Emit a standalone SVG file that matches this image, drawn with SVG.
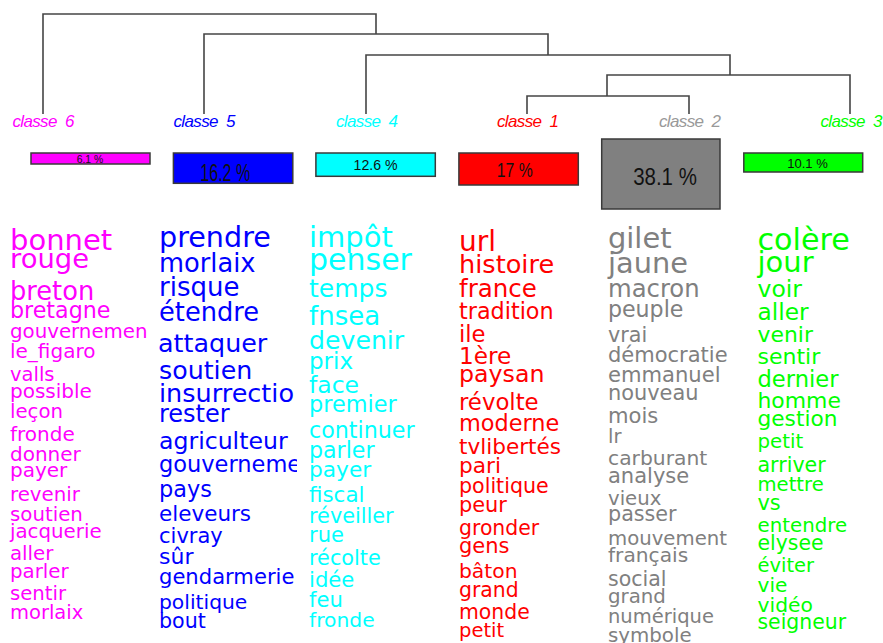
<svg xmlns="http://www.w3.org/2000/svg" width="883" height="643" viewBox="0 0 883 643">
<style>
.w{font-family:"DejaVu Sans","Liberation Sans",sans-serif}
.lab{font-family:"Liberation Sans",Arial,sans-serif;font-style:italic;font-size:17px;text-anchor:middle;white-space:pre}
.pct{font-family:"Liberation Sans",Arial,sans-serif;text-anchor:middle;fill:#111}
.bar{stroke:#3a3a3a;stroke-width:1.5}
.den{fill:none;stroke:#454545;stroke-width:1.6}
.m{fill:#FF00FF}.b{fill:#0000FF}.cy{fill:#00FFFF}.r{fill:#FF0000}.g{fill:#808080}.gr{fill:#00FF00}
</style>
<defs>
<clipPath id="clip5"><rect x="150" y="215" width="147" height="428"/></clipPath>
</defs>
<rect width="883" height="643" fill="#fff"/>
<g id="connectors" class="den">
<path d="M43,114 V14 H376 V34"/>
<path d="M204,114 V34 H548 V55"/>
<path d="M366,114 V55 H730 V75"/>
<path d="M607,96 V75 H850 V114"/>
<path d="M527,114 V96 H689 V114"/>
</g>
<g id="classe6">
<text class="lab m" x="43.4" y="127" textLength="62" xml:space="preserve">classe  6</text>
<rect class="bar m" x="31" y="153" width="119" height="11"/>
<text class="pct" x="90" y="162.7" font-size="10.8" textLength="26.6" lengthAdjust="spacingAndGlyphs">6.1 %</text>
<g class="w m">
<text x="10" y="250" font-size="29">bonnet</text>
<text x="10" y="268" font-size="27.4">rouge</text>
<text x="10" y="300" font-size="25.7">breton</text>
<text x="10" y="318" font-size="22.2">bretagne</text>
<text x="10" y="338" font-size="19.8">gouvernemen</text>
<text x="10" y="358" font-size="20">le_figaro</text>
<text x="10" y="381" font-size="19.5">valls</text>
<text x="10" y="398" font-size="20">possible</text>
<text x="10" y="418" font-size="19.7">leçon</text>
<text x="10" y="441" font-size="20">fronde</text>
<text x="10" y="461" font-size="20">donner</text>
<text x="10" y="477" font-size="20">payer</text>
<text x="10" y="501" font-size="19.8">revenir</text>
<text x="10" y="521" font-size="19.8">soutien</text>
<text x="10" y="538" font-size="19.8">jacquerie</text>
<text x="10" y="560" font-size="19.8">aller</text>
<text x="10" y="578" font-size="19.8">parler</text>
<text x="10" y="600" font-size="19.7">sentir</text>
<text x="10" y="619" font-size="19.5">morlaix</text>
</g>
</g>
<g id="classe5">
<text class="lab b" x="204.5" y="127" textLength="62" xml:space="preserve">classe  5</text>
<rect class="bar b" x="173.4" y="153" width="119.4" height="30.3"/>
<text class="pct" x="225.3" y="180.5" font-size="24.4" textLength="50" lengthAdjust="spacingAndGlyphs">16.2 %</text>
<g class="w b" clip-path="url(#clip5)">
<text x="159" y="247" font-size="28.6">prendre</text>
<text x="159" y="272" font-size="25.7">morlaix</text>
<text x="159" y="296" font-size="26">risque</text>
<text x="159" y="321" font-size="25.7">étendre</text>
<text x="158" y="352" font-size="25.4">attaquer</text>
<text x="159" y="379" font-size="25.3">soutien</text>
<text x="159" y="402" font-size="25.5">insurrectio</text>
<text x="159" y="422" font-size="24">rester</text>
<text x="159" y="449" font-size="23.6">agriculteur</text>
<text x="159" y="472" font-size="22.5">gouverneme</text>
<text x="159" y="497" font-size="22.4">pays</text>
<text x="159" y="521" font-size="21.5">eleveurs</text>
<text x="159" y="543" font-size="21">civray</text>
<text x="159" y="564" font-size="22">sûr</text>
<text x="159" y="584" font-size="21.1">gendarmerie</text>
<text x="159" y="609" font-size="20.3">politique</text>
<text x="159" y="628" font-size="20.6">bout</text>
</g>
</g>
<g id="classe4">
<text class="lab cy" x="367" y="127" textLength="62" xml:space="preserve">classe  4</text>
<rect class="bar cy" x="315.9" y="153" width="119.4" height="23.3"/>
<text class="pct" x="375.6" y="170" font-size="15" textLength="44" lengthAdjust="spacingAndGlyphs">12.6 %</text>
<g class="w cy">
<text x="309" y="247" font-size="29">impôt</text>
<text x="309" y="270" font-size="30">penser</text>
<text x="309" y="297" font-size="25">temps</text>
<text x="309" y="325" font-size="26">fnsea</text>
<text x="309" y="349" font-size="25.2">devenir</text>
<text x="309" y="369" font-size="23">prix</text>
<text x="309" y="393" font-size="23.5">face</text>
<text x="309" y="412" font-size="22.4">premier</text>
<text x="309" y="438" font-size="22.2">continuer</text>
<text x="309" y="458" font-size="22.1">parler</text>
<text x="309" y="477" font-size="21.7">payer</text>
<text x="309" y="502" font-size="21.4">fiscal</text>
<text x="309" y="523" font-size="20.8">réveiller</text>
<text x="309" y="542" font-size="21">rue</text>
<text x="309" y="565" font-size="20.8">récolte</text>
<text x="309" y="587" font-size="21.2">idée</text>
<text x="309" y="607" font-size="21.1">feu</text>
<text x="309" y="627" font-size="20.3">fronde</text>
</g>
</g>
<g id="classe1">
<text class="lab r" x="528" y="127" textLength="62" xml:space="preserve">classe  1</text>
<rect class="bar r" x="458.9" y="153" width="119.4" height="32"/>
<text class="pct" x="514.7" y="176.7" font-size="21" textLength="36" lengthAdjust="spacingAndGlyphs">17 %</text>
<g class="w r">
<text x="459" y="251" font-size="28">url</text>
<text x="459" y="273" font-size="25.6">histoire</text>
<text x="459" y="297" font-size="24.5">france</text>
<text x="459" y="319" font-size="22.3">tradition</text>
<text x="459" y="342" font-size="22.7">ile</text>
<text x="459" y="364" font-size="23.2">1ère</text>
<text x="459" y="382" font-size="23.7">paysan</text>
<text x="459" y="410" font-size="22.8">révolte</text>
<text x="459" y="431" font-size="22.4">moderne</text>
<text x="459" y="454" font-size="21.6">tvlibertés</text>
<text x="459" y="473" font-size="21.7">pari</text>
<text x="459" y="493" font-size="20.6">politique</text>
<text x="459" y="512" font-size="20.9">peur</text>
<text x="459" y="535" font-size="20.4">gronder</text>
<text x="459" y="553" font-size="21">gens</text>
<text x="459" y="578" font-size="20.3">bâton</text>
<text x="459" y="597" font-size="20.4">grand</text>
<text x="459" y="619" font-size="20.4">monde</text>
<text x="459" y="637" font-size="19.5">petit</text>
</g>
</g>
<g id="classe2">
<text class="lab" x="690" y="127" textLength="62" xml:space="preserve" fill="#999">classe  2</text>
<rect class="bar g" x="601.7" y="139" width="118.3" height="70"/>
<text class="pct" x="665" y="185" font-size="23.3" textLength="63.7" lengthAdjust="spacingAndGlyphs">38.1 %</text>
<g class="w g">
<text x="608" y="248" font-size="28.9">gilet</text>
<text x="608" y="273" font-size="28.8">jaune</text>
<text x="608" y="297" font-size="24.3">macron</text>
<text x="608" y="317" font-size="22.1">peuple</text>
<text x="608" y="342" font-size="20.7">vrai</text>
<text x="608" y="362" font-size="21">démocratie</text>
<text x="608" y="382" font-size="21.1">emmanuel</text>
<text x="608" y="400" font-size="20.9">nouveau</text>
<text x="608" y="423" font-size="21.1">mois</text>
<text x="608" y="443" font-size="19.5">lr</text>
<text x="608" y="465" font-size="20.3">carburant</text>
<text x="608" y="483" font-size="21">analyse</text>
<text x="608" y="505" font-size="19.7">vieux</text>
<text x="608" y="521" font-size="20.7">passer</text>
<text x="608" y="545" font-size="19.7">mouvement</text>
<text x="608" y="562" font-size="20.2">français</text>
<text x="608" y="586" font-size="20.5">social</text>
<text x="608" y="603" font-size="19.8">grand</text>
<text x="608" y="623" font-size="19.5">numérique</text>
<text x="608" y="642" font-size="19.8">symbole</text>
</g>
</g>
<g id="classe3">
<text class="lab gr" x="851.5" y="127" textLength="62" xml:space="preserve">classe  3</text>
<rect class="bar gr" x="743.8" y="153" width="118.9" height="19"/>
<text class="pct" x="807.5" y="168.3" font-size="12.6" textLength="40.6" lengthAdjust="spacingAndGlyphs">10.1 %</text>
<g class="w gr">
<text x="757.5" y="250" font-size="30.2">colère</text>
<text x="757.5" y="272" font-size="29">jour</text>
<text x="757.5" y="297" font-size="23.5">voir</text>
<text x="757.5" y="320" font-size="23.3">aller</text>
<text x="757.5" y="342" font-size="21.9">venir</text>
<text x="757.5" y="364" font-size="22">sentir</text>
<text x="757.5" y="387" font-size="22.6">dernier</text>
<text x="757.5" y="408" font-size="21.9">homme</text>
<text x="757.5" y="426" font-size="21.7">gestion</text>
<text x="757.5" y="448" font-size="19.8">petit</text>
<text x="757.5" y="472" font-size="20.6">arriver</text>
<text x="757.5" y="491" font-size="19.6">mettre</text>
<text x="757.5" y="510" font-size="20.9">vs</text>
<text x="757.5" y="532" font-size="19.8">entendre</text>
<text x="757.5" y="550" font-size="20.4">elysee</text>
<text x="757.5" y="572" font-size="19.5">éviter</text>
<text x="757.5" y="592" font-size="20.1">vie</text>
<text x="757.5" y="612" font-size="20.3">vidéo</text>
<text x="757.5" y="629" font-size="20.4">seigneur</text>
</g>
</g>
</svg>
